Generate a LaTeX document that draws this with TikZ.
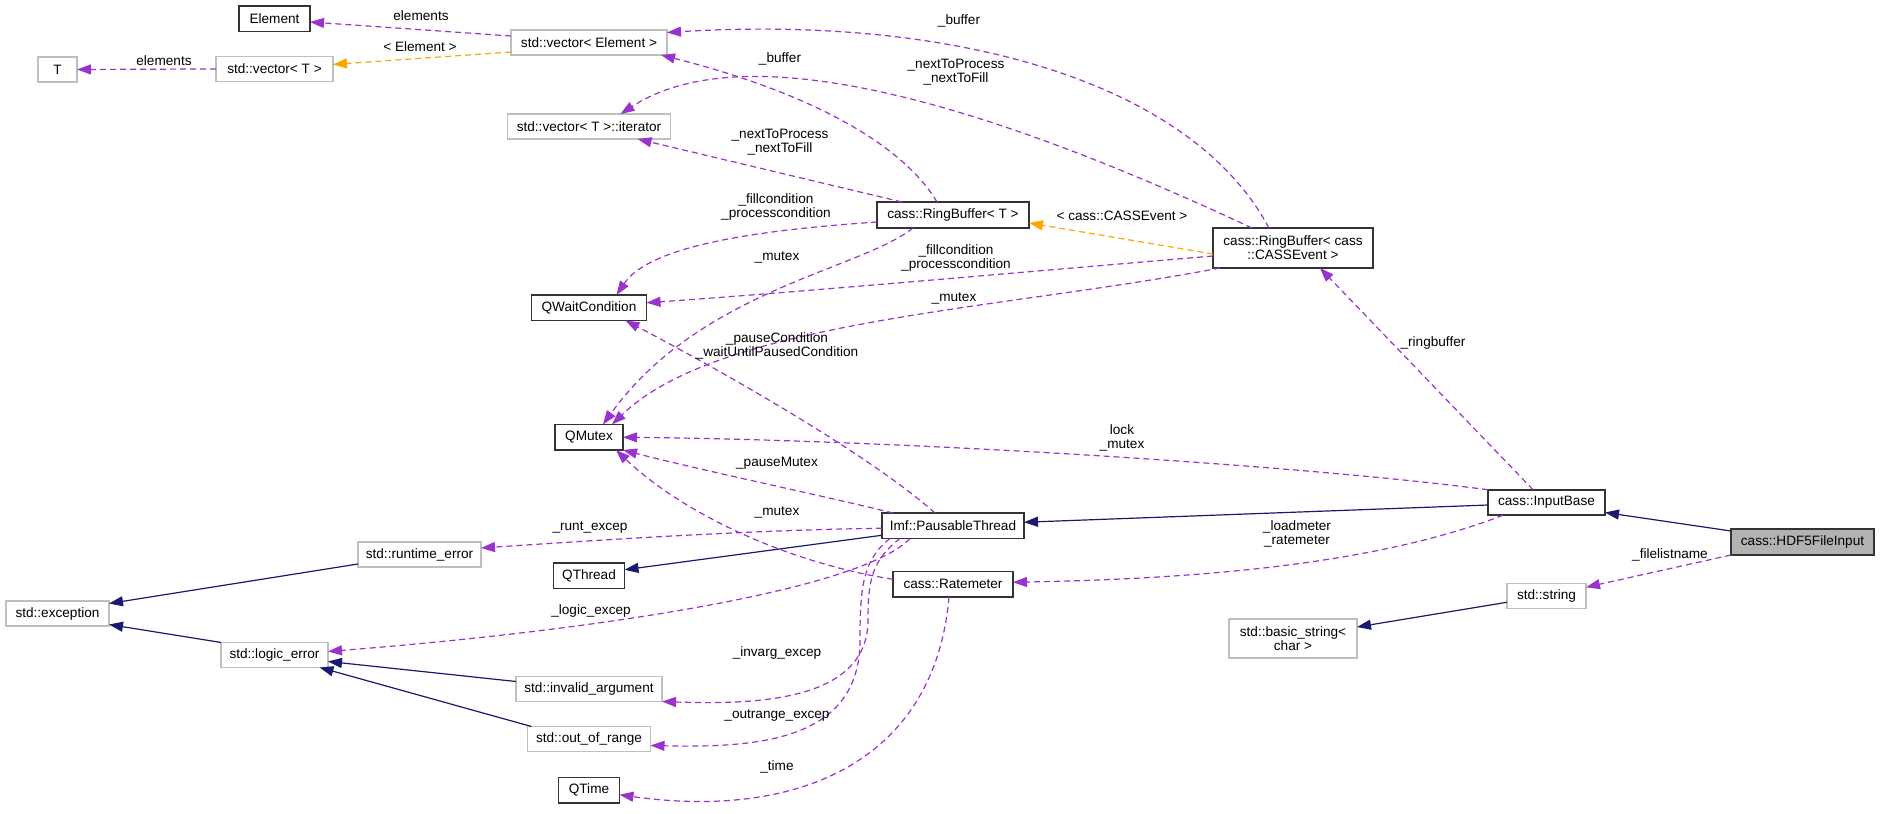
\documentclass[tikz,border=0pt]{standalone}
\usepackage{fontspec}
\setmainfont{Liberation Sans}
\usepackage{tikz}
\usetikzlibrary{arrows.meta,positioning}

\definecolor{usecol}{HTML}{9A32CD}
\definecolor{tmplcol}{HTML}{FFA500}
\definecolor{inhcol}{HTML}{191970}

\tikzset{
  cls/.style={draw=black!80, line width=0.9pt, fill=white, inner sep=0pt, outer sep=0pt, minimum height=12.75pt, align=center},
  ext/.style={draw=black!25, line width=0.7pt, fill=white, inner sep=0pt, outer sep=0pt, minimum height=12.5pt, align=center},
  cur/.style={cls, fill=black!30},
  lbl/.style={inner sep=0pt, align=center},
  use/.style={draw=usecol, line width=0.6pt, dash pattern=on 3pt off 2pt, -{Triangle[length=7pt,width=5pt]}},
  tmpl/.style={use, draw=tmplcol},
  inh/.style={draw=inhcol, line width=0.6pt, -{Triangle[length=7pt,width=5pt]}}
}

\begin{document}
\begin{tikzpicture}[x=0.5pt, y=-0.5pt, font=\fontsize{6.8}{7}\selectfont]
  \useasboundingbox[fill=white] (0,0) rectangle (1880,814);

  \node[ext, minimum width=19.5pt]            (t)         at (57.5,69.5)   {T};
  \node[ext, minimum width=51.5pt, below=259.5pt of t] (exception) {std::exception};

  \node[cls, minimum width=35.5pt]            (element)   at (274.5,18.7)  {Element};
  \node[ext, minimum width=58.5pt, below=12.5pt of element] (vect) {std::vector< T >};
  \node[ext, minimum width=53.5pt, below=280.5pt of vect]   (logic) {std::logic\_error};
  \node[ext, minimum width=61.5pt]            (runtime)   at (419.5,554.5) {std::runtime\_error};

  \node[ext, minimum width=78pt]              (vecelem)   at (589,42.5)    {std::vector< Element >};
  \node[ext, minimum width=81.5pt, below=29.5pt of vecelem] (iter)     {std::vector< T >::iterator};
  \node[cls, minimum width=57.5pt, below=78pt of iter]      (qwait)    {QWaitCondition};
  \node[cls, minimum width=34pt,   below=52pt of qwait]     (qmutex)   {QMutex};
  \node[cls, minimum width=35.5pt, below=56.5pt of qmutex]  (qthread)  {QThread};
  \node[ext, minimum width=73pt,   below=44pt of qthread]   (invarg)   {std::invalid\_argument};
  \node[ext, minimum width=61.5pt, below=12.5pt of invarg]  (outrange) {std::out\_of\_range};
  \node[cls, minimum width=30.5pt, below=13pt of outrange]  (qtime)    {QTime};

  \node[cls, minimum width=76pt, minimum height=13pt] (rbt) at (953,215) {cass::RingBuffer< T >};
  \node[cls, minimum width=71pt, below=142.5pt of rbt]    (pt)        {Imf::PausableThread};
  \node[cls, minimum width=60pt, below=16.5pt of pt]      (ratemeter) {cass::Ratemeter};

  \node[cls, minimum width=80pt, minimum height=20pt] (rbce) at (1293,248) {cass::RingBuffer< cass\\::CASSEvent >};
  \node[ext, minimum width=64pt, minimum height=19.5pt, below=175.5pt of rbce] (basic) {std::basic\_string<\\char >};

  \node[cls, minimum width=58.5pt]            (inputbase) at (1546.5,502.5) {cass::InputBase};
  \node[ext, minimum width=39.5pt, below=34pt of inputbase] (string) {std::string};
  \node[cur, minimum width=71.5pt, minimum height=13pt] (hdf5) at (1802.5,542) {cass::HDF5FileInput};

  \draw[use]  ([yshift=3.25pt]vecelem.west) -- ([yshift=-1.65pt]element.east);
  \draw[use]  (vect.west) -- (t.east);
  \draw[tmpl] ([yshift=-4.75pt]vecelem.west) -- ([yshift=2.25pt]vect.east);
  \draw[use]  ([xshift=-12pt]rbce.north) .. controls (1190,80) and (950,15) .. ([yshift=5pt]vecelem.east);
  \draw[use]  ([xshift=-8pt]rbt.north) .. controls (900,140) and (800,90) .. ([xshift=36pt]vecelem.south);
  \draw[use]  ([xshift=-20.5pt]rbce.north) .. controls (1000,110) and (750,30) .. ([xshift=15.75pt]iter.north);
  \draw[use]  ([xshift=-25.5pt]rbt.north) -- ([xshift=24.25pt]iter.south);
  \draw[tmpl] ([yshift=-3pt]rbce.west) -- ([yshift=-4pt]rbt.east);
  \draw[use]  ([yshift=-3.5pt]rbt.west) .. controls (760,230) and (650,245) .. ([xshift=13.75pt]qwait.north);
  \draw[use]  ([yshift=-4pt]rbce.west) .. controls (1000,274) and (800,292) .. ([yshift=2.5pt]qwait.east);
  \draw[use]  ([xshift=-20pt]rbt.south) .. controls (860,270) and (700,290) .. ([xshift=7pt]qmutex.north);
  \draw[use]  ([xshift=-36.5pt]rbce.south) .. controls (1000,310) and (720,320) .. ([xshift=11.5pt]qmutex.north);
  \draw[use]  ([xshift=-9pt]pt.north) .. controls (870,455) and (720,370) .. ([xshift=18.25pt]qwait.south);
  \draw[use]  (inputbase.north west) .. controls (1300,465) and (900,440) .. (qmutex.east);
  \draw[use]  ([xshift=-30pt]pt.north) .. controls (820,495) and (700,470) .. (qmutex.south east);
  \draw[use]  ([yshift=2.5pt]ratemeter.west) .. controls (800,565) and (690,520) .. ([xshift=13.5pt]qmutex.south);
  \draw[use]  ([yshift=-1.25pt]pt.west) .. controls (750,530) and (600,540) .. ([yshift=3.25pt]runtime.east);
  \draw[inh]  ([yshift=-4.75pt]pt.west) -- ([yshift=3pt]qthread.east);
  \draw[inh]  ([yshift=-1.25pt]inputbase.west) -- ([yshift=1.75pt]pt.east);
  \draw[inh]  ([yshift=5.5pt]hdf5.west) -- ([yshift=-5pt]inputbase.east);
  \draw[use]  ([xshift=-6.75pt]inputbase.north) -- ([xshift=13.5pt]rbce.south);
  \draw[use]  ([xshift=-21.75pt]inputbase.south) .. controls (1400,555) and (1250,578) .. ([yshift=1pt]ratemeter.east);
  \draw[use]  (hdf5.south west) -- ([yshift=4.25pt]string.east);
  \draw[inh]  ([yshift=-3.25pt]string.west) -- ([yshift=5.75pt]basic.east);
  \draw[inh]  ([yshift=-4.75pt]runtime.west) -- ([yshift=5pt]exception.east);
  \draw[inh]  (logic.north west) -- ([yshift=-5.5pt]exception.east);
  \draw[inh]  ([yshift=3.75pt]invarg.west) -- ([yshift=-3.25pt]logic.east);
  \draw[inh]  ([xshift=-28.75pt]outrange.north) -- ([xshift=22.5pt]logic.south);
  \draw[use]  ([xshift=-21.5pt]pt.south) .. controls (860,590) and (600,630) .. ([yshift=1.75pt]logic.east);
  \draw[use]  ([xshift=-26.5pt]pt.south) .. controls (872,560) and (868,580) .. (868,620)
              .. controls (868,700) and (760,705) .. (invarg.south east);
  \draw[use]  ([xshift=-31.5pt]pt.south) .. controls (862,560) and (860,590) .. (860,640)
              .. controls (860,740) and (760,748) .. ([yshift=-3.25pt]outrange.east);
  \draw[use]  ([xshift=-2pt]ratemeter.south) .. controls (935,760) and (800,820) .. ([yshift=-2.25pt]qtime.east);

  \node[lbl] (lelem1)  at (421,16)   {elements};
  \node[lbl] (lelem2)  at (164,61)   {elements};
  \node[lbl] (ltelem)  at (420,47)   {< Element >};
  \node[lbl] (lbuf1)   at (959,21)   {\_buffer};
  \node[lbl] (lbuf2)   at (780,59)   {\_buffer};
  \node[lbl] (lnext1)  at (956,72)   {\_nextToProcess\\\_nextToFill};
  \node[lbl] (lnext2)  at (780,142)  {\_nextToProcess\\\_nextToFill};
  \node[lbl] (lfill1)  at (776,207)  {\_fillcondition\\\_processcondition};
  \node[lbl] (ltcass)  at (1122,216) {< cass::CASSEvent >};
  \node[lbl] (lmut1)   at (777,257)  {\_mutex};
  \node[lbl] (lfill2)  at (956,258)  {\_fillcondition\\\_processcondition};
  \node[lbl] (lmut2)   at (954,298)  {\_mutex};
  \node[lbl] (lpause)  at (777,346)  {\_pauseCondition\\\_waitUntilPausedCondition};
  \node[lbl] (lring)   at (1433,343) {\_ringbuffer};
  \node[lbl] (llock)   at (1122,438) {lock\\\_mutex};
  \node[lbl] (lpmut)   at (777,463)  {\_pauseMutex};
  \node[lbl] (lmut3)   at (777,512)  {\_mutex};
  \node[lbl] (lrunt)   at (590,528)  {\_runt\_excep};
  \node[lbl] (lload)   at (1297,534) {\_loadmeter\\\_ratemeter};
  \node[lbl] (lfile)   at (1670,555) {\_filelistname};
  \node[lbl] (llogic)  at (591,611)  {\_logic\_excep};
  \node[lbl] (linvarg) at (777,653)  {\_invarg\_excep};
  \node[lbl] (lrange)  at (777,716)  {\_outrange\_excep};
  \node[lbl] (ltime)   at (777,767)  {\_time};
\end{tikzpicture}
\end{document}
